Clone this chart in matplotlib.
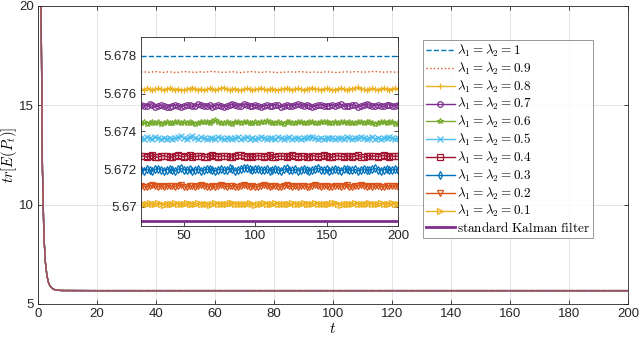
import numpy as np
import matplotlib.pyplot as plt

plt.rcParams['font.family'] = ['Liberation Sans', 'DejaVu Sans']
plt.rcParams['mathtext.fontset'] = 'cm'

# %%
# data
lambdas = ['1', '0.9', '0.8', '0.7', '0.6', '0.5', '0.4', '0.3', '0.2', '0.1']
levels = [5.67800, 5.67714, 5.67623, 5.67535, 5.67446, 5.67363,
          5.67266, 5.67195, 5.67107, 5.67015]
kalman_level = 5.66926

# transient at the start (same for every filter at this scale)
t_head = [1, 1.5, 2, 2.5, 3, 3.5, 4, 5, 6, 8]
trace_head = [20.6, 11.8, 8.4, 7.1, 6.45, 6.1, 5.92, 5.76, 5.70, 5.68]

# wiggles around each level, in units of 1e-5, t = 20 .. 200
dev_1 = [0, 0]
dev_09 = [1, 0, 2, -1, 1, 3, 2, 0, -1, 1, 2, 0, -2, -1, 1, 3, 2, 1, 0, -1, 1, 2, 0, 1, 3, 4, 2, 1, 0, -1, 0, 1,
          2, 1, -1, -2, 0, 1, 2, 3, 1, 0, -1, 0, 2, 1, 0, -1, -2, -1, 0, 1, 2, 1, 0, 2, 3, 1, 0, -1, 0, 1, 0, -1,
          1, 2, 1, 0, -2, -1, 0, 1, 2, 0, 1, 3, 2, 1, 0, 1, 2, 3, 4, 2, 1, 0, 1, 2, 1, 0, 1]
dev_08 = [3, -2, 5, 1, -4, 2, 6, 0, -3, 4, 7, 2, -1, 3, -5, -2, 1, 4, 8, 3, -1, 2, -4, 0, 5, 2, -3, 1, 6, 9, 3,
          -2, 0, 4, -1, -5, 2, 5, 1, -3, 0, 3, 7, 2, -2, 1, 4, -1, -4, 0, 3, 6, 1, -2, 2, 5, 0, -3, 1, 4, 8, 3,
          0, -2, 2, 5, 1, -4, -1, 3, 6, 2, -1, 1, 4, 7, 10, 3, 0, -3, 2, 5, 1, -2, 3, 6, 2, -1, 4, 5, 3]
dev_07 = [6, -3, 2, 8, 4, -5, 0, 3, -2, -7, -4, 1, 5, -1, -6, 2, 7, 3, -3, 1, 9, 5, -2, 0, 4, -4, 2, 6, 1, -5,
          -3, 3, 8, 4, -1, 2, 11, 6, -2, 0, 5, -3, -6, 1, 4, -1, 2, 7, 3, -4, 0, 5, 2, -2, 6, 9, 3, -1, 4, 1, -5,
          0, 3, 7, 2, -3, 1, 5, -1, 4, 8, 2, -2, 0, 6, 3, -4, 1, 5, 9, 4, -1, 2, 6, 0, -3, 3, 7, 2, -2, 4]
dev_06 = [-3, 2, -5, 0, 4, -2, 1, -6, -1, 3, -4, 0, 5, 2, -3, 1, -2, 4, 0, -5, -1, 3, 6, 1, -4, 8, 12, 3, -2, 0,
          4, -3, -6, 1, 3, -1, 2, 5, 0, -4, 2, -2, 1, 4, 9, 2, -3, 0, 3, -1, -5, 2, 4, 0, -2, 3, 1, -4, 0, 2, 5,
          -1, -3, 1, 6, 2, -2, 0, 3, -4, 1, 4, -1, 2, -3, 0, 5, 3, -2, 1, 4, -1, -5, 0, 2, 3, -3, 1, 4, -6, -2]
dev_05 = [2, -4, 5, 0, -3, 6, 1, -5, 3, -1, 4, -2, 0, 7, 12, 3, -2, 8, 10, 1, -3, 5, 2, -4, 0, 3, -1, 6, 2, -5,
          1, 4, -2, 0, 5, -3, 2, 6, -1, 3, -4, 0, 7, 2, -2, 4, 1, -3, 5, 0, -1, 3, 6, -2, 1, 4, -4, 0, 2, 5, 8,
          1, -2, 3, -3, 0, 4, 2, -5, 1, 3, -1, 6, 2, -2, 0, 4, 7, 1, -3, 2, 5, -1, 3, -4, 0, 2, 6, 1, -2, 3]
dev_04 = [1, 4, -2, 3, 6, 0, -3, 2, 5, 1, -4, 0, 3, 7, 2, -1, 4, 6, -2, 1, 3, 5, 0, -3, 2, 6, 4, -1, 1, 5, 2,
          -4, 0, 3, 7, 9, 3, 0, 4, -2, 1, 5, 3, -1, 2, 6, 0, -3, 1, 4, 2, -2, 3, 7, 1, -1, 4, 2, -3, 0, 5, 3, -2,
          1, 6, 2, 0, -4, 3, 5, 1, -1, 4, 2, -2, 3, 6, 0, -3, 2, 5, 1, 4, -1, 3, 6, 2, 0, 4, 1, 3]
dev_03 = [2, -3, 5, 0, -5, 3, 7, 1, -4, 2, 6, -1, -6, 3, 8, 2, -2, 4, -3, 1, 6, -4, -1, 3, 7, 0, -5, 2, 5, -2,
          1, 8, 3, -4, 0, 6, 10, 13, 4, -1, 3, 7, -2, 0, 5, -3, 2, 6, 1, -4, 3, 8, 0, -2, 4, -5, 1, 6, 2, -3, 0,
          5, 9, 2, -1, 3, -4, 1, 6, 0, -3, 4, 7, 1, -2, 3, -5, 0, 5, 2, -1, 4, 8, 1, -3, 2, 6, -2, 0, 4, 1]
dev_02 = [4, 0, -3, 2, 6, 1, -2, 3, -4, 1, 5, 2, -1, 4, 7, 0, -3, 2, 5, -2, 1, 6, 3, -1, 0, 4, -3, 2, 7, 1, -2,
          3, 5, 0, -4, 2, 6, 1, -1, 4, -2, 0, 3, 8, 2, -3, 1, 5, 0, -2, 4, 6, 1, -1, 3, -4, 2, 5, 0, -2, 3, 7, 1,
          -3, 2, 4, -1, 0, 5, 2, -2, 3, 6, 0, -3, 1, 4, 7, 2, -1, 3, -2, 1, 5, 0, -3, 2, 4, 1, 3, 0]
dev_01 = [0, 2, -1, 3, -2, 1, 4, 0, -3, 2, 1, -1, 3, 0, -2, 2, 4, 1, -1, 0, 3, -2, 1, 2, -3, 0, 4, 1, -1, 2, 0,
          3, 5, 1, -2, 0, 2, -1, 3, 1, -3, 0, 2, 4, 1, -1, 0, 3, -2, 1, 2, 0, -1, 3, 1, -2, 0, 4, 2, -1, 1, 3, 0,
          -2, 2, 1, -1, 3, 4, 0, -3, 1, 2, 0, -1, 3, 1, -2, 0, 2, 4, 1, -1, 0, 3, 2, -1, 1, 4, 2, 0]
devs = [dev_1, dev_09, dev_08, dev_07, dev_06, dev_05, dev_04, dev_03, dev_02, dev_01]

inset_ticks = [5.670, 5.672, 5.674, 5.676, 5.678]
inset_ticklabels = ['5.67', '5.672', '5.674', '5.676', '5.678']

# %%
# MATLAB-ish styles
colors = ['#0072BD', '#D95319', '#EDB120', '#7E2F8E', '#77AC30', '#4DBEEE',
          '#A2142F', '#0072BD', '#D95319', '#EDB120']
styles = ['--', ':', '-', '-', '-', '-', '-', '-', '-', '-']
markers = [None, None, '+', 'o', '*', 'x', 's', 'd', 'v', '>']
kalman_color = '#7E2F8E'

fig = plt.figure(figsize=(6.4, 3.4), dpi=100)
ax = fig.add_axes([0.0594, 0.1059, 0.9219, 0.8765])
ins = fig.add_axes([0.2203, 0.3353, 0.4016, 0.5567])

handles = []
for lam, lv, dv, c, ls, mk in zip(lambdas, levels, devs, colors, styles, markers):
    t_tail = np.linspace(20, 200, len(dv))
    y_tail = lv + np.array(dv) * 1e-5
    # main axes: transient + steady state
    ax.plot(list(t_head) + list(t_tail), list(trace_head) + list(y_tail),
            color=c, ls=ls, lw=0.9)
    h, = ins.plot(t_tail, y_tail, color=c, ls=ls, lw=1.0, marker=mk,
                  markersize=4, markerfacecolor='none', markeredgewidth=0.9,
                  label=r'$\lambda_1=\lambda_2=%s$' % lam)
    handles.append(h)

ax.plot(list(t_head) + [200], list(trace_head[:-1]) + [kalman_level, kalman_level],
        color=kalman_color, lw=1.0, alpha=0.75)
hk, = ins.plot([20, 200], [kalman_level, kalman_level], color=kalman_color, lw=2,
               label=r'$\mathrm{standard\ Kalman\ filter}$')
handles.append(hk)

# main axes
ax.set_xlim(0, 200)
ax.set_ylim(5, 20)
ax.set_xticks(np.arange(0, 201, 20))
ax.set_yticks([5, 10, 15, 20])
ax.grid(True, color='#e3e3e3', lw=0.7)
ax.set_axisbelow(True)
ax.set_xlabel(r'$t$', fontsize=11, labelpad=1)
ax.set_ylabel(r'$tr[E(P_t)]$', fontsize=10.5)
ax.yaxis.set_label_coords(-0.032, 0.5)
for a in (ax, ins):
    a.tick_params(direction='in', top=True, right=True, labelsize=9.5,
                  length=3, width=0.6, colors='#262626', pad=3)
    for s in a.spines.values():
        s.set_color('#262626')
        s.set_linewidth(0.6)

# inset
ins.set_xlim(20, 200)
ins.set_ylim(5.66898, 5.67902)
ins.set_xticks([50, 100, 150, 200])
ins.set_yticks(inset_ticks)
ins.set_yticklabels(inset_ticklabels)

leg = ax.legend(handles=handles, loc='upper left',
                bbox_to_anchor=(0.661, 0.882), bbox_transform=fig.transFigure,
                fontsize=9.5, frameon=True, fancybox=False, edgecolor='#808080',
                handlelength=2.2, handletextpad=0.2, borderpad=0.2,
                labelspacing=0.12, borderaxespad=0)
leg.get_frame().set_linewidth(0.7)
leg.set_zorder(10)

fig.savefig('out.png', dpi=100)
